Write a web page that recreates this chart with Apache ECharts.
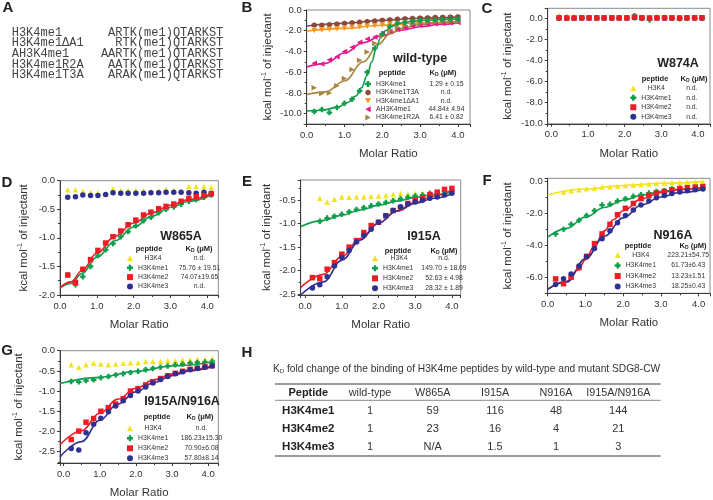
<!DOCTYPE html>
<html>
<head>
<meta charset="utf-8">
<script src="https://cdn.jsdelivr.net/npm/echarts@6/dist/echarts.min.js"></script>
<style>
html, body { margin: 0; padding: 0; background: #fff; }
#main { width: 713px; height: 500px; }
</style>
</head>
<body>
<div id="main"></div>
<script>
// injection molar ratios (panels B, E stop at 4.0; others at ~4.1)
const injA = [0.2, 0.4, 0.6, 0.8, 1.0, 1.2, 1.4, 1.6, 1.8, 2.0, 2.2, 2.4, 2.6, 2.8, 3.0, 3.2, 3.4, 3.6, 3.8, 4.0]
const injB = [0.21, 0.42, 0.62, 0.83, 1.03, 1.24, 1.44, 1.65, 1.85, 2.06, 2.27, 2.47, 2.68, 2.88, 3.09, 3.29, 3.50, 3.70, 3.91, 4.11]

// A - peptide sequences
const peptideNames = ['H3K4me1', 'H3K4me1ΔA1', 'AH3K4me1', 'H3K4me1R2A', 'H3K4me1T3A']
const peptideSeqs = ['ARTK(me1)QTARKST', 'RTK(me1)QTARKST', 'AARTK(me1)QTARKST', 'AATK(me1)QTARKST', 'ARAK(me1)QTARKST']

// B - wild-type
const wtMe1 = [-9.8, -9.6, -9.9, -9.4, -9.0, -8.6, -7.8, -6.0, -3.7, -2.3, -1.6, -1.3, -1.2, -1.1, -1.0, -1.0, -0.95, -0.92, -0.9, -0.9]
const wtT3A = [-1.45, -1.45, -1.4, -1.35, -1.28, -1.22, -1.16, -1.1, -1.04, -0.98, -0.93, -0.88, -0.84, -0.8, -0.77, -0.74, -0.71, -0.69, -0.67, -0.65]
const wtDA1 = [-1.98, -1.93, -1.88, -1.82, -1.76, -1.7, -1.64, -1.58, -1.52, -1.46, -1.41, -1.36, -1.32, -1.28, -1.25, -1.22, -1.19, -1.16, -1.14, -1.12]
const wtAH = [-5.15, -5.2, -4.8, -4.5, -4.0, -3.6, -3.1, -2.8, -2.6, -2.3, -2.05, -1.85, -1.7, -1.55, -1.45, -1.38, -1.32, -1.27, -1.22, -1.2]
const wtR2A = [-7.5, -8.05, -8.0, -7.3, -6.6, -5.75, -4.85, -4.05, -3.2, -2.5, -2.0, -1.7, -1.5, -1.35, -1.3, -1.22, -1.18, -1.15, -1.12, -1.1]
const wtMe1Fit = [[0, -9.75], [0.4, -9.68], [0.8, -9.4], [1.1, -8.9], [1.3, -8.3], [1.45, -7.5], [1.6, -6.3], [1.72, -5.0], [1.84, -3.7], [1.95, -2.7], [2.08, -2.0], [2.25, -1.55], [2.5, -1.25], [2.8, -1.08], [3.2, -0.97], [3.6, -0.91], [4.05, -0.87]]
const wtT3AFit = [[0, -1.55], [1.0, -1.28], [2.0, -1.0], [3.0, -0.8], [4.05, -0.66]]
const wtDA1Fit = [[0, -2.02], [1.0, -1.77], [2.0, -1.47], [3.0, -1.26], [4.05, -1.12]]
const wtAHFit = [[0, -5.5], [0.5, -5.15], [1.0, -4.15], [1.5, -3.15], [2.0, -2.45], [2.5, -1.95], [3.0, -1.62], [3.5, -1.4], [4.05, -1.22]]
const wtR2AFit = [[0, -8.15], [0.5, -7.9], [1.0, -6.85], [1.5, -5.0], [1.9, -3.3], [2.2, -2.3], [2.5, -1.8], [3.0, -1.4], [3.5, -1.22], [4.05, -1.12]]

// C - W874A
const w874K4 = [0.3, 0.25, 0.2, 0.12, 0.1, 0.1, 0.1, 0.1, 0.1, 0.1, 0.15, 0.1, 0.1, 0.2, 0.2, 0.1, 0.1, 0.1, 0.1, 0.1]
const w874Me1 = [0.05, 0.05, 0.05, 0.05, 0.05, 0.05, 0.05, 0.05, 0.05, 0.05, 0.25, 0.05, -0.15, 0.05, 0.05, 0.05, -0.05, 0.05, 0.05, 0.05]
const w874Me2 = [0.05, 0.03, 0.03, 0.05, 0.05, 0.05, 0.05, 0.05, 0.05, 0.05, 0.1, 0.05, 0.03, 0.05, 0.05, 0.05, 0.03, 0.05, 0.05, 0.05]
const w874Me3 = [0, 0, 0, 0, 0, 0, 0, 0, 0, 0, 0.05, 0, 0, 0, 0, 0, 0, 0, 0, 0]

// D - W865A
const w865K4 = [-0.16, -0.16, -0.18, -0.2, -0.21, -0.24, -0.14, -0.17, -0.17, -0.17, -0.17, -0.19, -0.17, -0.15, -0.17, -0.19, -0.1, -0.1, -0.1, -0.12]
const w865Me1 = [-1.65, -1.82, -1.68, -1.5, -1.31, -1.21, -1.1, -0.98, -0.89, -0.79, -0.7, -0.64, -0.56, -0.5, -0.46, -0.41, -0.36, -0.33, -0.29, -0.25]
const w865Me2 = [-1.65, -1.78, -1.55, -1.38, -1.22, -1.09, -0.98, -0.88, -0.77, -0.69, -0.6, -0.55, -0.49, -0.45, -0.41, -0.36, -0.31, -0.28, -0.26, -0.23]
const w865Me3 = [-0.29, -0.28, -0.25, -0.26, -0.26, -0.24, -0.21, -0.22, -0.22, -0.22, -0.22, -0.21, -0.21, -0.2, -0.2, -0.2, -0.21, -0.22, -0.2, -0.22]
const w865Me1Fit = [[0, -1.88], [0.3, -1.8], [0.6, -1.62], [1.0, -1.34], [1.5, -1.05], [2.0, -0.81], [2.5, -0.62], [3.0, -0.47], [3.5, -0.36], [4.11, -0.25]]
const w865Me2Fit = [[0, -1.87], [0.3, -1.77], [0.6, -1.57], [1.0, -1.27], [1.5, -0.97], [2.0, -0.74], [2.5, -0.56], [3.0, -0.43], [3.5, -0.33], [4.11, -0.23]]

// E - I915A
const i915K4 = [null, -0.46, -0.54, -0.48, -0.43, -0.44, -0.43, -0.43, -0.42, -0.41, -0.4, -0.38, -0.36, -0.37, -0.36, -0.35, -0.33, -0.31, -0.31, -0.29]
const i915Me1 = [null, -0.95, -0.88, -0.84, -0.8, -0.75, -0.7, -0.66, -0.62, -0.58, -0.55, -0.51, -0.47, -0.44, -0.41, -0.39, -0.36, -0.34, -0.32, -0.3]
const i915Me2 = [-2.15, -2.17, -1.97, -1.83, -1.65, -1.5, -1.36, -1.19, -1.04, -0.97, -0.83, -0.72, -0.66, -0.57, -0.51, -0.46, -0.38, -0.33, -0.27, -0.25]
const i915Me3 = [-2.37, -2.3, -2.13, -1.9, -1.72, -1.57, -1.39, -1.25, -1.12, -0.97, -0.83, -0.72, -0.64, -0.58, -0.54, -0.5, -0.46, -0.43, -0.39, -0.35]
const i915Me1Fit = [[-0.12, -1.06], [0.5, -0.93], [1.0, -0.82], [1.5, -0.71], [2.0, -0.61], [2.5, -0.52], [3.0, -0.44], [3.5, -0.38], [4.0, -0.33]]
const i915Me2Fit = [[-0.12, -2.36], [0.5, -2.08], [1.0, -1.7], [1.5, -1.32], [2.0, -0.99], [2.5, -0.73], [3.0, -0.55], [3.5, -0.41], [4.0, -0.28]]
const i915Me3Fit = [[-0.12, -2.52], [0.5, -2.24], [1.0, -1.78], [1.5, -1.35], [2.0, -0.99], [2.5, -0.73], [3.0, -0.57], [3.5, -0.46], [4.0, -0.37]]

// F - N916A
const n916K4 = [null, -0.68, -0.6, -0.55, -0.48, -0.43, -0.38, -0.35, -0.31, -0.28, -0.24, -0.21, -0.18, -0.16, -0.13, -0.11, -0.09, -0.07, -0.06, -0.04]
const n916Me1 = [-3.3, -3.0, -2.7, -2.45, -2.15, -1.85, -1.5, -1.45, -1.25, -1.1, -0.95, -0.85, -0.75, -0.65, -0.6, -0.5, -0.45, -0.42, -0.4, -0.38]
const n916Me2 = [-6.1, -6.4, -6.0, -5.4, -4.7, -3.9, -3.3, -2.7, -2.1, -1.7, -1.4, -1.1, -0.9, -0.75, -0.65, -0.55, -0.48, -0.42, -0.38, -0.35]
const n916Me3 = [-6.45, -6.1, -5.8, -5.3, -4.7, -4.2, -3.6, -3.1, -2.6, -2.15, -1.8, -1.5, -1.25, -1.05, -0.9, -0.78, -0.68, -0.6, -0.55, -0.5]
const n916K4Fit = [[0, -0.85], [1.0, -0.5], [2.0, -0.28], [3.0, -0.14], [4.11, -0.04]]
const n916Me1Fit = [[0, -3.5], [0.5, -2.95], [1.0, -2.25], [1.5, -1.65], [2.0, -1.2], [2.5, -0.88], [3.0, -0.66], [3.5, -0.52], [4.11, -0.4]]
const n916Me2Fit = [[0, -6.75], [0.5, -6.25], [0.8, -5.55], [1.0, -4.9], [1.25, -4.0], [1.5, -3.1], [1.75, -2.4], [2.0, -1.85], [2.5, -1.1], [3.0, -0.72], [3.5, -0.52], [4.11, -0.4]]
const n916Me3Fit = [[0, -6.75], [0.5, -6.3], [1.0, -4.85], [1.5, -3.45], [2.0, -2.3], [2.5, -1.48], [3.0, -1.0], [3.5, -0.72], [4.11, -0.52]]

// G - I915A/N916A
const dblK4 = [-0.35, -0.41, -0.35, -0.31, -0.33, -0.35, -0.33, -0.31, -0.3, -0.3, -0.27, -0.27, -0.27, -0.25, -0.25, -0.23, -0.23, -0.22, -0.22, -0.2]
const dblMe1 = [-0.76, -0.77, -0.74, -0.72, -0.67, -0.64, -0.6, -0.57, -0.54, -0.51, -0.47, -0.44, -0.41, -0.38, -0.35, -0.33, -0.31, -0.29, -0.28, -0.27]
const dblMe2 = [-2.2, -1.99, -1.77, -1.68, -1.5, -1.41, -1.32, -1.19, -1.0, -0.94, -0.85, -0.77, -0.69, -0.62, -0.56, -0.51, -0.46, -0.43, -0.4, -0.37]
const dblMe3 = [-2.42, -2.46, -2.03, -1.82, -1.67, -1.51, -1.37, -1.24, -1.11, -1.0, -0.9, -0.8, -0.71, -0.64, -0.57, -0.52, -0.47, -0.44, -0.41, -0.38]
const dblMe1Fit = [[-0.1, -0.81], [1.0, -0.66], [2.0, -0.51], [3.0, -0.38], [4.11, -0.28]]
const dblMe2Fit = [[-0.1, -2.33], [0.5, -1.98], [1.0, -1.55], [1.5, -1.2], [2.0, -0.93], [2.5, -0.72], [3.0, -0.58], [3.5, -0.47], [4.11, -0.38]]
const dblMe3Fit = [[-0.1, -2.63], [0.5, -2.25], [1.0, -1.72], [1.5, -1.32], [2.0, -1.02], [2.5, -0.79], [3.0, -0.62], [3.5, -0.5], [4.11, -0.4]]

// legend K_D values
const kdWt = ['1.29 ± 0.15', 'n.d.', 'n.d.', '44.84± 4.94', '6.41 ± 0.82']
const kdW874 = ['n.d.', 'n.d.', 'n.d.', 'n.d.']
const kdW865 = ['n.d.', '75.76 ± 19.51', '74.07±19.65', 'n.d.']
const kdI915 = ['n.d.', '149.70 ± 18.09', '52.63 ± 4.98', '28.32 ± 1.89']
const kdN916 = ['223.21±54.75', '61.73±6.43', '13.23±1.51', '18.25±0.43']
const kdDbl = ['n.d.', '186.23±15.30', '70.90±6.08', '57.80±8.14']

// H - table
const tableCols = ['Peptide', 'wild-type', 'W865A', 'I915A', 'N916A', 'I915A/N916A']
const tableRows = ['H3K4me1', 'H3K4me2', 'H3K4me3']
const tableVals = [
  ['1', '59', '116', '48', '144'],
  ['1', '23', '16', '4', '21'],
  ['1', 'N/A', '1.5', '1', '3']
]

const sans = 'Liberation Sans, Arial, sans-serif'
const cMe1 = '#0d9d4b'
const cMe2 = '#ee1d25'
const cMe3 = '#2c3192'
const cK4 = '#f3e41a'
const symPlus = 'path://M3,0L7,0L7,3L10,3L10,7L7,7L7,10L3,10L3,7L0,7L0,3L3,3Z'
const symHex = 'path://M5,0L9.33,2.5L9.33,7.5L5,10L0.67,7.5L0.67,2.5Z'
const symDown = 'path://M0,0L10,0L5,9Z'
const symLeft = 'path://M9,0L9,10L0,5Z'
const symRight = 'path://M0,0L9,5L0,10Z'

// panel frames: left, top, width, height, x range, y range, y label step
const panels = [
  { key: 'B', left: 306.7, top: 10, width: 163.3, height: 114, xMin: 0, xMax: 4.32, yMin: -11, yMax: 0, yStep: 2, ySplit: 5, yGap: 32 },
  { key: 'C', left: 547.7, top: 8.3, width: 162.3, height: 115.5, xMin: -0.1, xMax: 4.33, yMin: -10, yMax: 0.95, yStep: 2, ySplit: 5, yGap: 33 },
  { key: 'D', left: 60, top: 180.7, width: 158.3, height: 114.3, xMin: 0, xMax: 4.3, yMin: -2, yMax: 0, yStep: 0.5, ySplit: 4, yGap: 29 },
  { key: 'E', left: 300.7, top: 180, width: 160, height: 115, xMin: -0.12, xMax: 4.24, yMin: -2.52, yMax: -0.07, yStep: 0.5, ySplit: 5, yGap: 27 },
  { key: 'F', left: 547.7, top: 178.3, width: 162.3, height: 115, xMin: 0, xMax: 4.3, yMin: -7, yMax: 0.17, yStep: 2, ySplit: 4, yGap: 33 },
  { key: 'G', left: 60, top: 350.7, width: 158.3, height: 113.3, xMin: -0.1, xMax: 4.28, yMin: -2.78, yMax: 0, yStep: 0.5, ySplit: 6, yGap: 34 }
]

const onStep = (v, s) => Math.abs(v / s - Math.round(v / s)) < 1e-6
const fmt = s => v => onStep(v, s) ? (Math.round(v * 1000) / 1000).toFixed(1) : ''

const axisColor = '#3a3a3a'
const grid = panels.map(p => ({
  left: p.left, top: p.top, width: p.width, height: p.height,
  show: true, borderColor: '#8a8a8a', borderWidth: 1, containLabel: false
}))
const xAxis = panels.map((p, i) => ({
  gridIndex: i, type: 'value', min: p.xMin, max: p.xMax, splitNumber: 4,
  axisLine: { onZero: false, lineStyle: { color: axisColor } },
  axisTick: { length: 3, lineStyle: { color: axisColor } },
  minorTick: { show: true, splitNumber: 2, length: 2, lineStyle: { color: axisColor } },
  splitLine: { show: false },
  axisLabel: { fontSize: 9.5, color: '#333', margin: 6, formatter: fmt(1) },
  name: 'Molar Ratio', nameLocation: 'middle', nameGap: 24,
  nameTextStyle: { fontSize: 11.5, color: '#333' }
}))
const yAxis = panels.map((p, i) => ({
  gridIndex: i, type: 'value', min: p.yMin, max: p.yMax, splitNumber: p.ySplit,
  axisLine: { onZero: false, lineStyle: { color: axisColor } },
  axisTick: { length: 3, lineStyle: { color: axisColor } },
  minorTick: { show: true, splitNumber: 2, length: 2, lineStyle: { color: axisColor } },
  splitLine: { show: false },
  axisLabel: { fontSize: 9.5, color: '#333', margin: 5, formatter: fmt(p.yStep) },
  name: 'kcal mol{sup|-1} of injectant', nameLocation: 'middle', nameGap: p.yGap,
  nameTextStyle: {
    fontSize: 11.5, color: '#333', lineHeight: 14,
    rich: { sup: { fontSize: 7, lineHeight: 8, verticalAlign: 'top', color: '#333' } }
  }
}))

function sc (name, gi, xs, ys, color, symbol) {
  return {
    type: 'scatter', name, xAxisIndex: gi, yAxisIndex: gi,
    data: xs.map((x, k) => [x, ys[k]]).filter(d => d[1] != null),
    symbol, symbolSize: 5.5,
    itemStyle: { color, opacity: 1 }, z: 3, silent: true
  }
}
function fit (gi, pts, color) {
  return {
    type: 'line', name: 'fit', xAxisIndex: gi, yAxisIndex: gi, data: pts,
    smooth: 0.4, smoothMonotone: 'x', showSymbol: false, symbol: 'none',
    lineStyle: { color, width: 1.6 }, z: 2, silent: true
  }
}

const cT3A = '#8c4a3c'
const cDA1 = '#f7961e'
const cAH = '#e5198b'
const cR2A = '#a8843f'

const series = [
  // B
  fit(0, wtT3AFit, cT3A), fit(0, wtDA1Fit, cDA1), fit(0, wtAHFit, cAH), fit(0, wtR2AFit, cR2A), fit(0, wtMe1Fit, cMe1),
  sc('H3K4me1T3A', 0, injA, wtT3A, cT3A, symHex),
  sc('H3K4me1ΔA1', 0, injA, wtDA1, cDA1, symDown),
  sc('AH3K4me1', 0, injA, wtAH, cAH, symLeft),
  sc('H3K4me1R2A', 0, injA, wtR2A, cR2A, symRight),
  sc('H3K4me1', 0, injA, wtMe1, cMe1, symPlus),
  // C
  sc('H3K4', 1, injB, w874K4, cK4, 'triangle'),
  sc('H3K4me3', 1, injB, w874Me3, cMe3, 'circle'),
  sc('H3K4me1', 1, injB, w874Me1, cMe1, symPlus),
  sc('H3K4me2', 1, injB, w874Me2, cMe2, 'rect'),
  // D
  fit(2, w865Me1Fit, cMe1), fit(2, w865Me2Fit, cMe2),
  sc('H3K4', 2, injB, w865K4, cK4, 'triangle'),
  sc('H3K4me3', 2, injB, w865Me3, cMe3, 'circle'),
  sc('H3K4me1', 2, injB, w865Me1, cMe1, symPlus),
  sc('H3K4me2', 2, injB, w865Me2, cMe2, 'rect'),
  // E
  fit(3, i915Me1Fit, cMe1), fit(3, i915Me2Fit, cMe2), fit(3, i915Me3Fit, cMe3),
  sc('H3K4', 3, injA, i915K4, cK4, 'triangle'),
  sc('H3K4me1', 3, injA, i915Me1, cMe1, symPlus),
  sc('H3K4me2', 3, injA, i915Me2, cMe2, 'rect'),
  sc('H3K4me3', 3, injA, i915Me3, cMe3, 'circle'),
  // F
  fit(4, n916K4Fit, cK4), fit(4, n916Me1Fit, cMe1), fit(4, n916Me2Fit, cMe2), fit(4, n916Me3Fit, cMe3),
  sc('H3K4', 4, injB, n916K4, cK4, 'triangle'),
  sc('H3K4me1', 4, injB, n916Me1, cMe1, symPlus),
  sc('H3K4me2', 4, injB, n916Me2, cMe2, 'rect'),
  sc('H3K4me3', 4, injB, n916Me3, cMe3, 'circle'),
  // G
  fit(5, dblMe1Fit, cMe1), fit(5, dblMe2Fit, cMe2), fit(5, dblMe3Fit, cMe3),
  sc('H3K4', 5, injB, dblK4, cK4, 'triangle'),
  sc('H3K4me1', 5, injB, dblMe1, cMe1, symPlus),
  sc('H3K4me2', 5, injB, dblMe2, cMe2, 'rect'),
  sc('H3K4me3', 5, injB, dblMe3, cMe3, 'circle')
]

// legends: icon left, first row top, row height, name box width, value box width
function leg (names, kds, left, top, rowH, nameW, valW) {
  const fs = 6.8
  return {
    data: names, orient: 'vertical', left, top, itemWidth: 6, itemHeight: 6, itemGap: 0,
    selectedMode: false, padding: 0,
    formatter: n => (n.length < 5 ? '{c|' : '{n|') + n + '}{k|' + kds[names.indexOf(n)] + '}',
    textStyle: {
      color: '#333', fontSize: fs, lineHeight: rowH,
      rich: {
        n: { width: nameW, align: 'left', fontSize: fs, lineHeight: rowH, color: '#333' },
        c: { width: nameW, align: 'center', fontSize: fs, lineHeight: rowH, color: '#333' },
        k: { width: valW, align: 'center', fontSize: fs, lineHeight: rowH, color: '#333' }
      }
    }
  }
}
const k4Names = ['H3K4', 'H3K4me1', 'H3K4me2', 'H3K4me3']
const legend = [
  leg(['H3K4me1', 'H3K4me1T3A', 'H3K4me1ΔA1', 'AH3K4me1', 'H3K4me1R2A'], kdWt, 365, 79.8, 8.4, 44, 53),
  leg(k4Names, kdW874, 630.3, 83.5, 9.5, 30, 41),
  leg(k4Names, kdW865, 127, 253.6, 9.4, 30, 63),
  leg(k4Names, kdI915, 372, 253.3, 10, 32, 58),
  leg(k4Names, kdN916, 614.7, 249.8, 10.5, 30, 65),
  leg(k4Names, kdDbl, 127, 423.3, 10, 30, 67)
]

function txt (x, y, text, size, extra) {
  return {
    type: 'text', x, y, silent: true,
    style: Object.assign({
      text, fontSize: size, fontFamily: sans, fill: '#222',
      textAlign: 'center', align: 'center', textVerticalAlign: 'middle', verticalAlign: 'middle'
    }, extra || {})
  }
}
const bold = { fontWeight: 'bold' }
const kdHead = { fontWeight: 'bold', rich: { s: { fontSize: 5, fontWeight: 'bold', verticalAlign: 'bottom', lineHeight: 6 } } }

const graphics = []
// panel letters
;[['A', 8, 8], ['B', 247, 8], ['C', 487, 9], ['D', 7, 183], ['E', 247, 182], ['F', 487, 181], ['G', 7, 351], ['H', 247, 353]]
  .forEach(l => graphics.push(txt(l[1], l[2], l[0], 15, bold)))

// panel A sequences
const mono = 'Liberation Mono, Courier New, monospace'
peptideNames.forEach((n, i) => {
  const y = 32.7 + i * 10.6
  graphics.push(txt(11.7, y, n, 12, { fontFamily: mono, textAlign: 'left', align: 'left', fill: '#444' }))
  graphics.push(txt(223.3, y, peptideSeqs[i], 12, { fontFamily: mono, textAlign: 'right', align: 'right', fill: '#444' }))
})

// panel titles and legend headers
const heads = [
  ['wild-type', 420, 59, 392, 443, 73.3],
  ['W874A', 678, 64, 655, 694, 79],
  ['W865A', 181, 236.7, 149, 199, 249],
  ['I915A', 424, 236.7, 398, 444, 250.7],
  ['N916A', 673, 236, 638, 693, 245.7],
  ['I915A/N916A', 182, 401.7, 157, 200, 416.7]
]
heads.forEach(h => {
  graphics.push(txt(h[1], h[2], h[0], 12.5, bold))
  graphics.push(txt(h[3], h[5], 'peptide', 7.5, bold))
  graphics.push(txt(h[4], h[5], 'K{s|D} (μM)', 7.5, kdHead))
})

// panel H table
graphics.push(txt(273, 369.3, 'K{s|D} fold change of the binding of H3K4me peptides by wild-type and mutant SDG8-CW', 10.2,
  { textAlign: 'left', align: 'left', fill: '#333', rich: { s: { fontSize: 6, verticalAlign: 'bottom', lineHeight: 8 } } }))
const colX = [308.3, 370, 432.7, 495, 556, 618.3]
const ruleL = 275
const ruleR = 660.7
;[[384, 1.3], [400.3, 0.9], [456, 1.3]].forEach(r => graphics.push({
  type: 'line', silent: true, shape: { x1: ruleL, y1: r[0], x2: ruleR, y2: r[0] }, style: { stroke: '#7a7a7a', lineWidth: r[1] }
}))
tableCols.forEach((c, j) => graphics.push(txt(colX[j], 393, c, j === 0 ? 11 : 10.8, j === 0 ? bold : { fill: '#333' })))
tableRows.forEach((r, i) => {
  const y = 411 + i * 18
  graphics.push(txt(colX[0], y, r, 11.5, bold))
  tableVals[i].forEach((v, j) => graphics.push(txt(colX[j + 1], y, v, 11, { fill: '#333' })))
})

const chart = echarts.init(document.getElementById('main'), null, { renderer: 'canvas' })
chart.setOption({
  animation: false,
  backgroundColor: '#fff',
  textStyle: { fontFamily: sans },
  grid, xAxis, yAxis, series, legend,
  graphic: { elements: graphics }
})
</script>
</body>
</html>
